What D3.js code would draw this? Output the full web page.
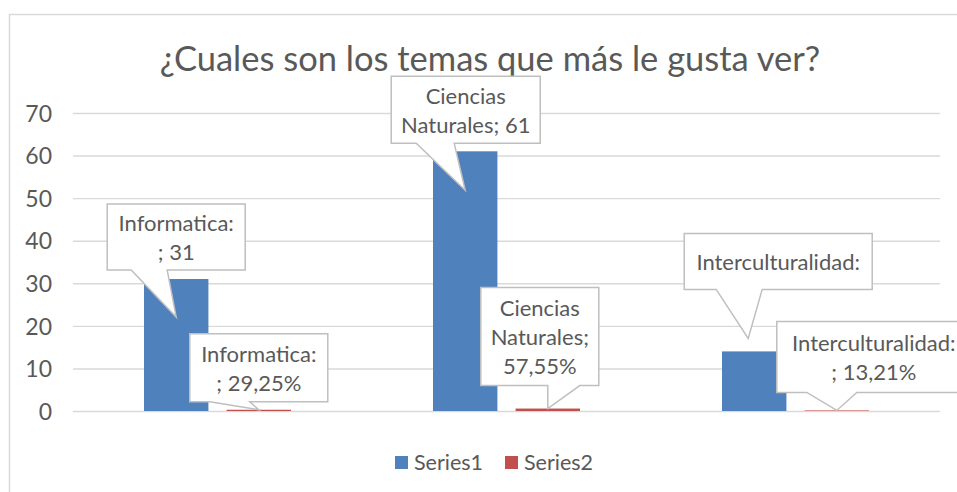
<!DOCTYPE html>
<html>
<head>
<meta charset="utf-8">
<script src="https://cdn.jsdelivr.net/npm/d3@7"></script>
<style>
  body { margin: 0; background: #fff; }
  text { font-family: Lato, "Open Sans", sans-serif; fill: #595959; }
</style>
</head>
<body>
<div id="chart"></div>
<script>
// chart data
var categories = ["Informatica: ", "Ciencias Naturales", "Interculturalidad: "];
var series1 = [31, 61, 14];
var series2 = [0.2925, 0.5755, 0.1321];
var seriesNames = ["Series1", "Series2"];
var yTicks = [0, 10, 20, 30, 40, 50, 60, 70];
var titleText = "¿Cuales son los temas que más le gusta ver?";

var colors = ["#4f81bd", "#c0504d"];

// callout boxes, placed relative to the point they aim at
// lines = how many words go on each text line
var callouts1 = [
  {tdx: 0, tdy: 38, bx: -69, by: -113, w: 138, h: 66, b0: -45, b1: -9, lines: [1, 2]},
  {tdx: 0, tdy: 39, bx: -74, by: -114, w: 149, h: 67, b0: -49, b1: -11, lines: [1, 2]},
  {tdx: -6, tdy: -13, bx: -64, by: -105, w: 188, h: 56, b0: -32, b1: 14, lines: [1]}
];
var callouts2 = [
  {tdx: 0, tdy: 0, bx: -69, by: -76, w: 138, h: 68, b0: -49, b1: -9, lines: [1, 2]},
  {tdx: 0, tdy: 0, bx: -67, by: -121, w: 118, h: 98, b0: 0, b1: 32, lines: [1, 1, 1]},
  {tdx: 0, tdy: 0, bx: -60, by: -89, w: 194, h: 71, b0: -30, b1: 20, lines: [1, 2]}
];

var svgWidth = 957;
var svgHeight = 492;
var margin = {top: 113, right: 17, bottom: 81, left: 73};
var width = svgWidth - margin.left - margin.right;
var height = svgHeight - margin.top - margin.bottom;

var svg = d3.select("#chart")
  .append("svg")
  .attr("width", svgWidth)
  .attr("height", svgHeight);

// outer frame (runs off the right and bottom edges)
svg.append("rect")
  .attr("x", 9.5)
  .attr("y", 14.5)
  .attr("width", 980)
  .attr("height", 520)
  .attr("fill", "#fff")
  .attr("stroke", "#d9d9d9")
  .attr("stroke-width", 1.5);

svg.append("text")
  .attr("x", 490)
  .attr("y", 71)
  .attr("text-anchor", "middle")
  .attr("font-size", 34.5)
  .text(titleText);

var chartGroup = svg.append("g")
  .attr("transform", `translate(${margin.left}, ${margin.top})`);

var xScale = d3.scaleBand()
  .domain(categories)
  .range([0, width]);

var xSub = d3.scaleBand()
  .domain(seriesNames)
  .range([71, 218])
  .paddingInner(0.22);

var yScale = d3.scaleLinear()
  .domain([0, 70])
  .range([height, 0]);

var leftAxis = d3.axisLeft(yScale)
  .tickValues(yTicks)
  .tickSize(-width)
  .tickPadding(21);

var yAxis = chartGroup.append("g").call(leftAxis);
yAxis.select(".domain").remove();
yAxis.selectAll("line")
  .attr("stroke", "#d9d9d9")
  .attr("stroke-width", 1.4);
yAxis.selectAll("text")
  .attr("font-size", 23)
  .attr("font-family", "Lato, 'Open Sans', sans-serif")
  .attr("fill", "#595959")
  .attr("dy", "0.36em");

var allSeries = [series1, series2];

allSeries.forEach(function(values, s) {
  chartGroup.selectAll(".bar" + s)
    .data(values)
    .enter()
    .append("rect")
    .attr("class", "bar" + s)
    .attr("x", (d, i) => xScale(categories[i]) + xSub(seriesNames[s]))
    .attr("y", d => yScale(d))
    .attr("width", xSub.bandwidth())
    .attr("height", d => height - yScale(d))
    .attr("fill", colors[s]);
});

// data label text
function fmtPct(v) {
  return (v * 100).toFixed(2).replace(".", ",") + "%";
}
var labels1 = series1.map((v, i) => categories[i] + "; " + v);
var labels2 = series2.map((v, i) => categories[i] + "; " + fmtPct(v));

function drawCallout(value, i, s, lay, label) {
  var cx = xScale(categories[i]) + xSub(seriesNames[s]) + xSub.bandwidth() / 2;
  var tx = cx + lay.tdx;
  var ty = yScale(value) + lay.tdy;
  var L = tx + lay.bx, T = ty + lay.by, R = L + lay.w, B = T + lay.h;
  var path = d3.path();
  path.moveTo(L, T);
  path.lineTo(R, T);
  path.lineTo(R, B);
  path.lineTo(tx + lay.b1, B);
  path.lineTo(tx, ty);
  path.lineTo(tx + lay.b0, B);
  path.lineTo(L, B);
  path.closePath();

  var g = chartGroup.append("g");
  g.append("path")
    .attr("d", path.toString())
    .attr("fill", "#fff")
    .attr("stroke", "#bfbfbf")
    .attr("stroke-width", 1.5)
    .attr("stroke-linejoin", "miter");

  var words = label.split(/\s+/);
  var lines = [];
  var k = 0;
  lay.lines.forEach(function(cnt) {
    lines.push(words.slice(k, k + cnt).join(" "));
    k += cnt;
  });

  var n = lines.length;
  var first = T + lay.h / 2 - (n - 1) * 29 / 2 + 8.5;
  lines.forEach(function(t, j) {
    g.append("text")
      .attr("x", (L + R) / 2)
      .attr("y", first + j * 29)
      .attr("text-anchor", "middle")
      .attr("font-size", 22)
      .text(t);
  });
}

series1.forEach((v, i) => drawCallout(v, i, 0, callouts1[i], labels1[i]));
series2.forEach((v, i) => drawCallout(v, i, 1, callouts2[i], labels2[i]));

// legend
var legend = svg.append("g")
  .attr("transform", "translate(395, 456)");
var legendItems = legend.selectAll("g")
  .data(seriesNames)
  .enter()
  .append("g")
  .attr("transform", (d, i) => `translate(${i * 110}, 0)`);
legendItems.append("rect")
  .attr("width", 13)
  .attr("height", 13)
  .attr("fill", (d, i) => colors[i]);
legendItems.append("text")
  .attr("x", 19)
  .attr("y", 14)
  .attr("font-size", 21.5)
  .text(d => d);
</script>
</body>
</html>
